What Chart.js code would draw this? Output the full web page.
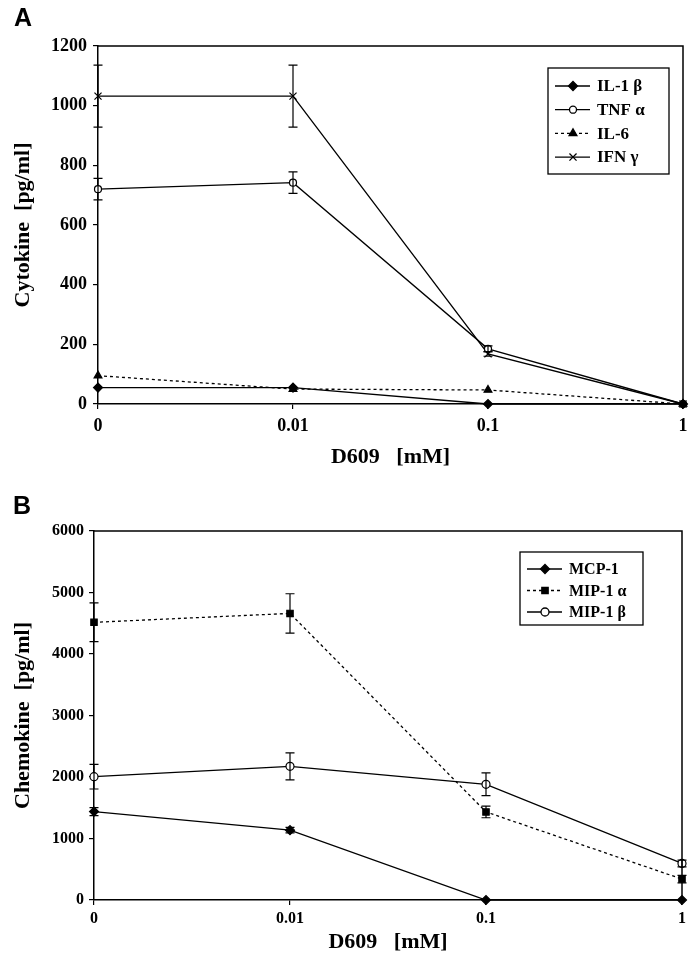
<!DOCTYPE html>
<html>
<head>
<meta charset="utf-8">
<script src="https://cdn.jsdelivr.net/npm/chart.js@4.4.1/dist/chart.umd.min.js"></script>
<style>
  html, body { margin: 0; padding: 0; background: #fff; }
  #wrap { position: relative; width: 700px; height: 961px; }
  .panel { position: absolute; left: 0; width: 700px; }
  #panelA { top: 0; height: 480px; }
  #panelB { top: 480px; height: 481px; }
</style>
</head>
<body>
<div id="wrap">
  <div class="panel" id="panelA"><canvas id="chartA"></canvas></div>
  <div class="panel" id="panelB"><canvas id="chartB"></canvas></div>
</div>
<script>
// D609 doses [mM], drawn evenly spaced
const doses = ['0', '0.01', '0.1', '1'];

// Panel A - cytokines [pg/ml]
const il1b = [55, 55, 0, 0];
const tnfa = [720, 742, 185, 0];
const il6 = [95, 50, 47, 0];
const ifng = [1032, 1032, 168, 0];
const il1bErr = [0, 0, 0, 0];
const tnfaErr = [36, 36, 10, 0];
const il6Err = [0, 0, 0, 0];
const ifngErr = [104, 104, 8, 0];
const cytokineTicks = [0, 200, 400, 600, 800, 1000, 1200];

// Panel B - chemokines [pg/ml]
const mcp1 = [1438, 1135, 0, 0];
const mip1a = [4515, 4660, 1432, 340];
const mip1b = [2005, 2173, 1881, 595];
const mcp1Err = [65, 45, 0, 0];
const mip1aErr = [315, 320, 95, 60];
const mip1bErr = [200, 220, 185, 55];
const chemokineTicks = [0, 1000, 2000, 3000, 4000, 5000, 6000];

const serif = "'Liberation Serif', 'Times New Roman', serif";

// error bars with small caps
const errorBars = {
    id: 'errorBars',
    afterDatasetsDraw(chart) {
        const {ctx} = chart;
        const x = chart.scales.x, y = chart.scales.y;
        ctx.save();
        ctx.strokeStyle = '#000';
        ctx.lineWidth = 1.2;
        chart.data.datasets.forEach(ds => {
            if (!ds.errors) return;
            ds.errors.forEach((e, j) => {
                if (!e) return;
                const px = x.getPixelForValue(j);
                const top = y.getPixelForValue(ds.data[j] + e);
                const bot = y.getPixelForValue(ds.data[j] - e);
                ctx.beginPath();
                ctx.moveTo(px, top); ctx.lineTo(px, bot);
                ctx.moveTo(px - 4.5, top); ctx.lineTo(px + 4.5, top);
                ctx.moveTo(px - 4.5, bot); ctx.lineTo(px + 4.5, bot);
                ctx.stroke();
            });
        });
        ctx.restore();
    }
};

// top and right edges of the plot box
const frame = {
    id: 'frame',
    afterDraw(chart) {
        const {ctx, chartArea: a} = chart;
        ctx.save();
        ctx.strokeStyle = '#000';
        ctx.lineWidth = 1.5;
        ctx.beginPath();
        ctx.moveTo(a.left, a.top); ctx.lineTo(a.right, a.top); ctx.lineTo(a.right, a.bottom);
        ctx.stroke();
        ctx.restore();
    }
};

// framed legend inside the plot, line sample + marker
const boxLegend = {
    id: 'boxLegend',
    afterDraw(chart, args, opts) {
        const {ctx} = chart;
        ctx.save();
        ctx.strokeStyle = '#000';
        ctx.lineWidth = 1.3;
        ctx.strokeRect(opts.x, opts.y, opts.w, opts.h);
        chart.data.datasets.forEach((ds, i) => {
            const cy = opts.y + opts.first + i * opts.step;
            ctx.strokeStyle = '#000';
            ctx.lineWidth = ds.borderWidth;
            ctx.setLineDash(ds.borderDash || []);
            ctx.beginPath();
            ctx.moveTo(opts.x + 7, cy); ctx.lineTo(opts.x + 42, cy);
            ctx.stroke();
            ctx.setLineDash([]);
            ctx.fillStyle = ds.pointBackgroundColor;
            Chart.helpers.drawPoint(ctx, {
                pointStyle: ds.pointStyle,
                radius: ds.pointRadius,
                borderWidth: ds.pointBorderWidth,
                rotation: 0
            }, opts.x + 25, cy);
            ctx.fillStyle = '#000';
            ctx.font = opts.font;
            ctx.textBaseline = 'middle';
            ctx.fillText(ds.label, opts.x + 49, cy + 1);
        });
        ctx.restore();
    }
};

// panel letter A / B
const panelLetter = {
    id: 'panelLetter',
    afterDraw(chart, args, opts) {
        const {ctx} = chart;
        ctx.save();
        ctx.fillStyle = '#000';
        ctx.font = "bold 25px 'Liberation Sans', Arial, sans-serif";
        ctx.textBaseline = 'alphabetic';
        ctx.fillText(opts.text, opts.x, opts.y);
        ctx.restore();
    }
};

function series(label, data, errors, style, radius, fill, dashed) {
    return {
        label: label,
        data: data,
        errors: errors,
        borderColor: '#000',
        borderWidth: 1.3,
        borderDash: dashed ? [3, 3] : [],
        pointStyle: style,
        pointRadius: radius,
        pointBorderColor: '#000',
        pointBackgroundColor: fill,
        pointBorderWidth: 1.2,
        tension: 0,
        clip: false
    };
}

function makeChart(canvas, datasets, cfg) {
    return new Chart(canvas, {
        type: 'line',
        data: {labels: doses, datasets: datasets},
        plugins: [errorBars, frame, boxLegend, panelLetter],
        options: {
            responsive: true,
            maintainAspectRatio: false,
            animation: false,
            devicePixelRatio: 1,
            events: [],
            layout: {padding: cfg.padding},
            scales: {
                x: {
                    type: 'category',
                    offset: false,
                    afterFit: s => { s.height = cfg.xHeight; },
                    border: {color: '#000', width: 1.5},
                    grid: {display: true, drawOnChartArea: false, drawTicks: true, tickLength: 5, color: '#000', lineWidth: 1.2},
                    ticks: {color: '#000', padding: cfg.xTickPad, maxRotation: 0, font: {family: serif, weight: 'bold', size: cfg.tickSize}},
                    title: {
                        display: true,
                        text: 'D609   [mM]',
                        color: '#000',
                        padding: {top: 0, bottom: cfg.xTitlePad},
                        font: {family: serif, weight: 'bold', size: 22}
                    }
                },
                y: {
                    min: 0,
                    max: cfg.ticks[cfg.ticks.length - 1],
                    afterBuildTicks: s => { s.ticks = cfg.ticks.map(v => ({value: v})); },
                    afterFit: s => { s.width = cfg.yWidth; },
                    border: {color: '#000', width: 1.5},
                    grid: {display: true, drawOnChartArea: false, drawTicks: true, tickLength: 5, color: '#000', lineWidth: 1.2},
                    ticks: {
                        color: '#000',
                        padding: cfg.yTickPad,
                        callback: v => String(v),
                        font: {family: serif, weight: 'bold', size: cfg.tickSize}
                    },
                    title: {
                        display: true,
                        text: cfg.yTitle,
                        color: '#000',
                        padding: {top: 10, bottom: 0},
                        font: {family: serif, weight: 'bold', size: 22}
                    }
                }
            },
            plugins: {
                legend: {display: false},
                tooltip: {enabled: false},
                boxLegend: cfg.legend,
                panelLetter: cfg.letter
            }
        }
    });
}

makeChart(document.getElementById('chartA'), [
    series('IL-1 β', il1b, il1bErr, 'rectRot', 4.5, '#000', false),
    series('TNF α', tnfa, tnfaErr, 'circle', 3.5, '#fff', false),
    series('IL-6', il6, il6Err, 'triangle', 4.5, '#000', true),
    series('IFN γ', ifng, ifngErr, 'crossRot', 5, '#000', false)
], {
    padding: {top: 46, right: 17, left: 0, bottom: 0},
    xHeight: 76, yWidth: 98,
    xTickPad: 7, yTickPad: 6, xTitlePad: 9, tickSize: 18,
    ticks: cytokineTicks,
    yTitle: 'Cytokine  [pg/ml]',
    legend: {x: 548, y: 68, w: 121, h: 106, first: 18, step: 23.7, font: "bold 17px 'Liberation Serif', serif"},
    letter: {text: 'A', x: 14, y: 26}
});

makeChart(document.getElementById('chartB'), [
    series('MCP-1', mcp1, mcp1Err, 'rectRot', 4.5, '#000', false),
    series('MIP-1 α', mip1a, mip1aErr, 'rect', 4.5, '#000', true),
    series('MIP-1 β', mip1b, mip1bErr, 'circle', 4, '#fff', false)
], {
    padding: {top: 51, right: 18, left: 0, bottom: 0},
    xHeight: 61, yWidth: 94,
    xTickPad: 4, yTickPad: 5, xTitlePad: 5, tickSize: 16,
    ticks: chemokineTicks,
    yTitle: 'Chemokine  [pg/ml]',
    legend: {x: 520, y: 72, w: 123, h: 73, first: 17, step: 21.5, font: "bold 16px 'Liberation Serif', serif"},
    letter: {text: 'B', x: 13, y: 34}
});
</script>
</body>
</html>
